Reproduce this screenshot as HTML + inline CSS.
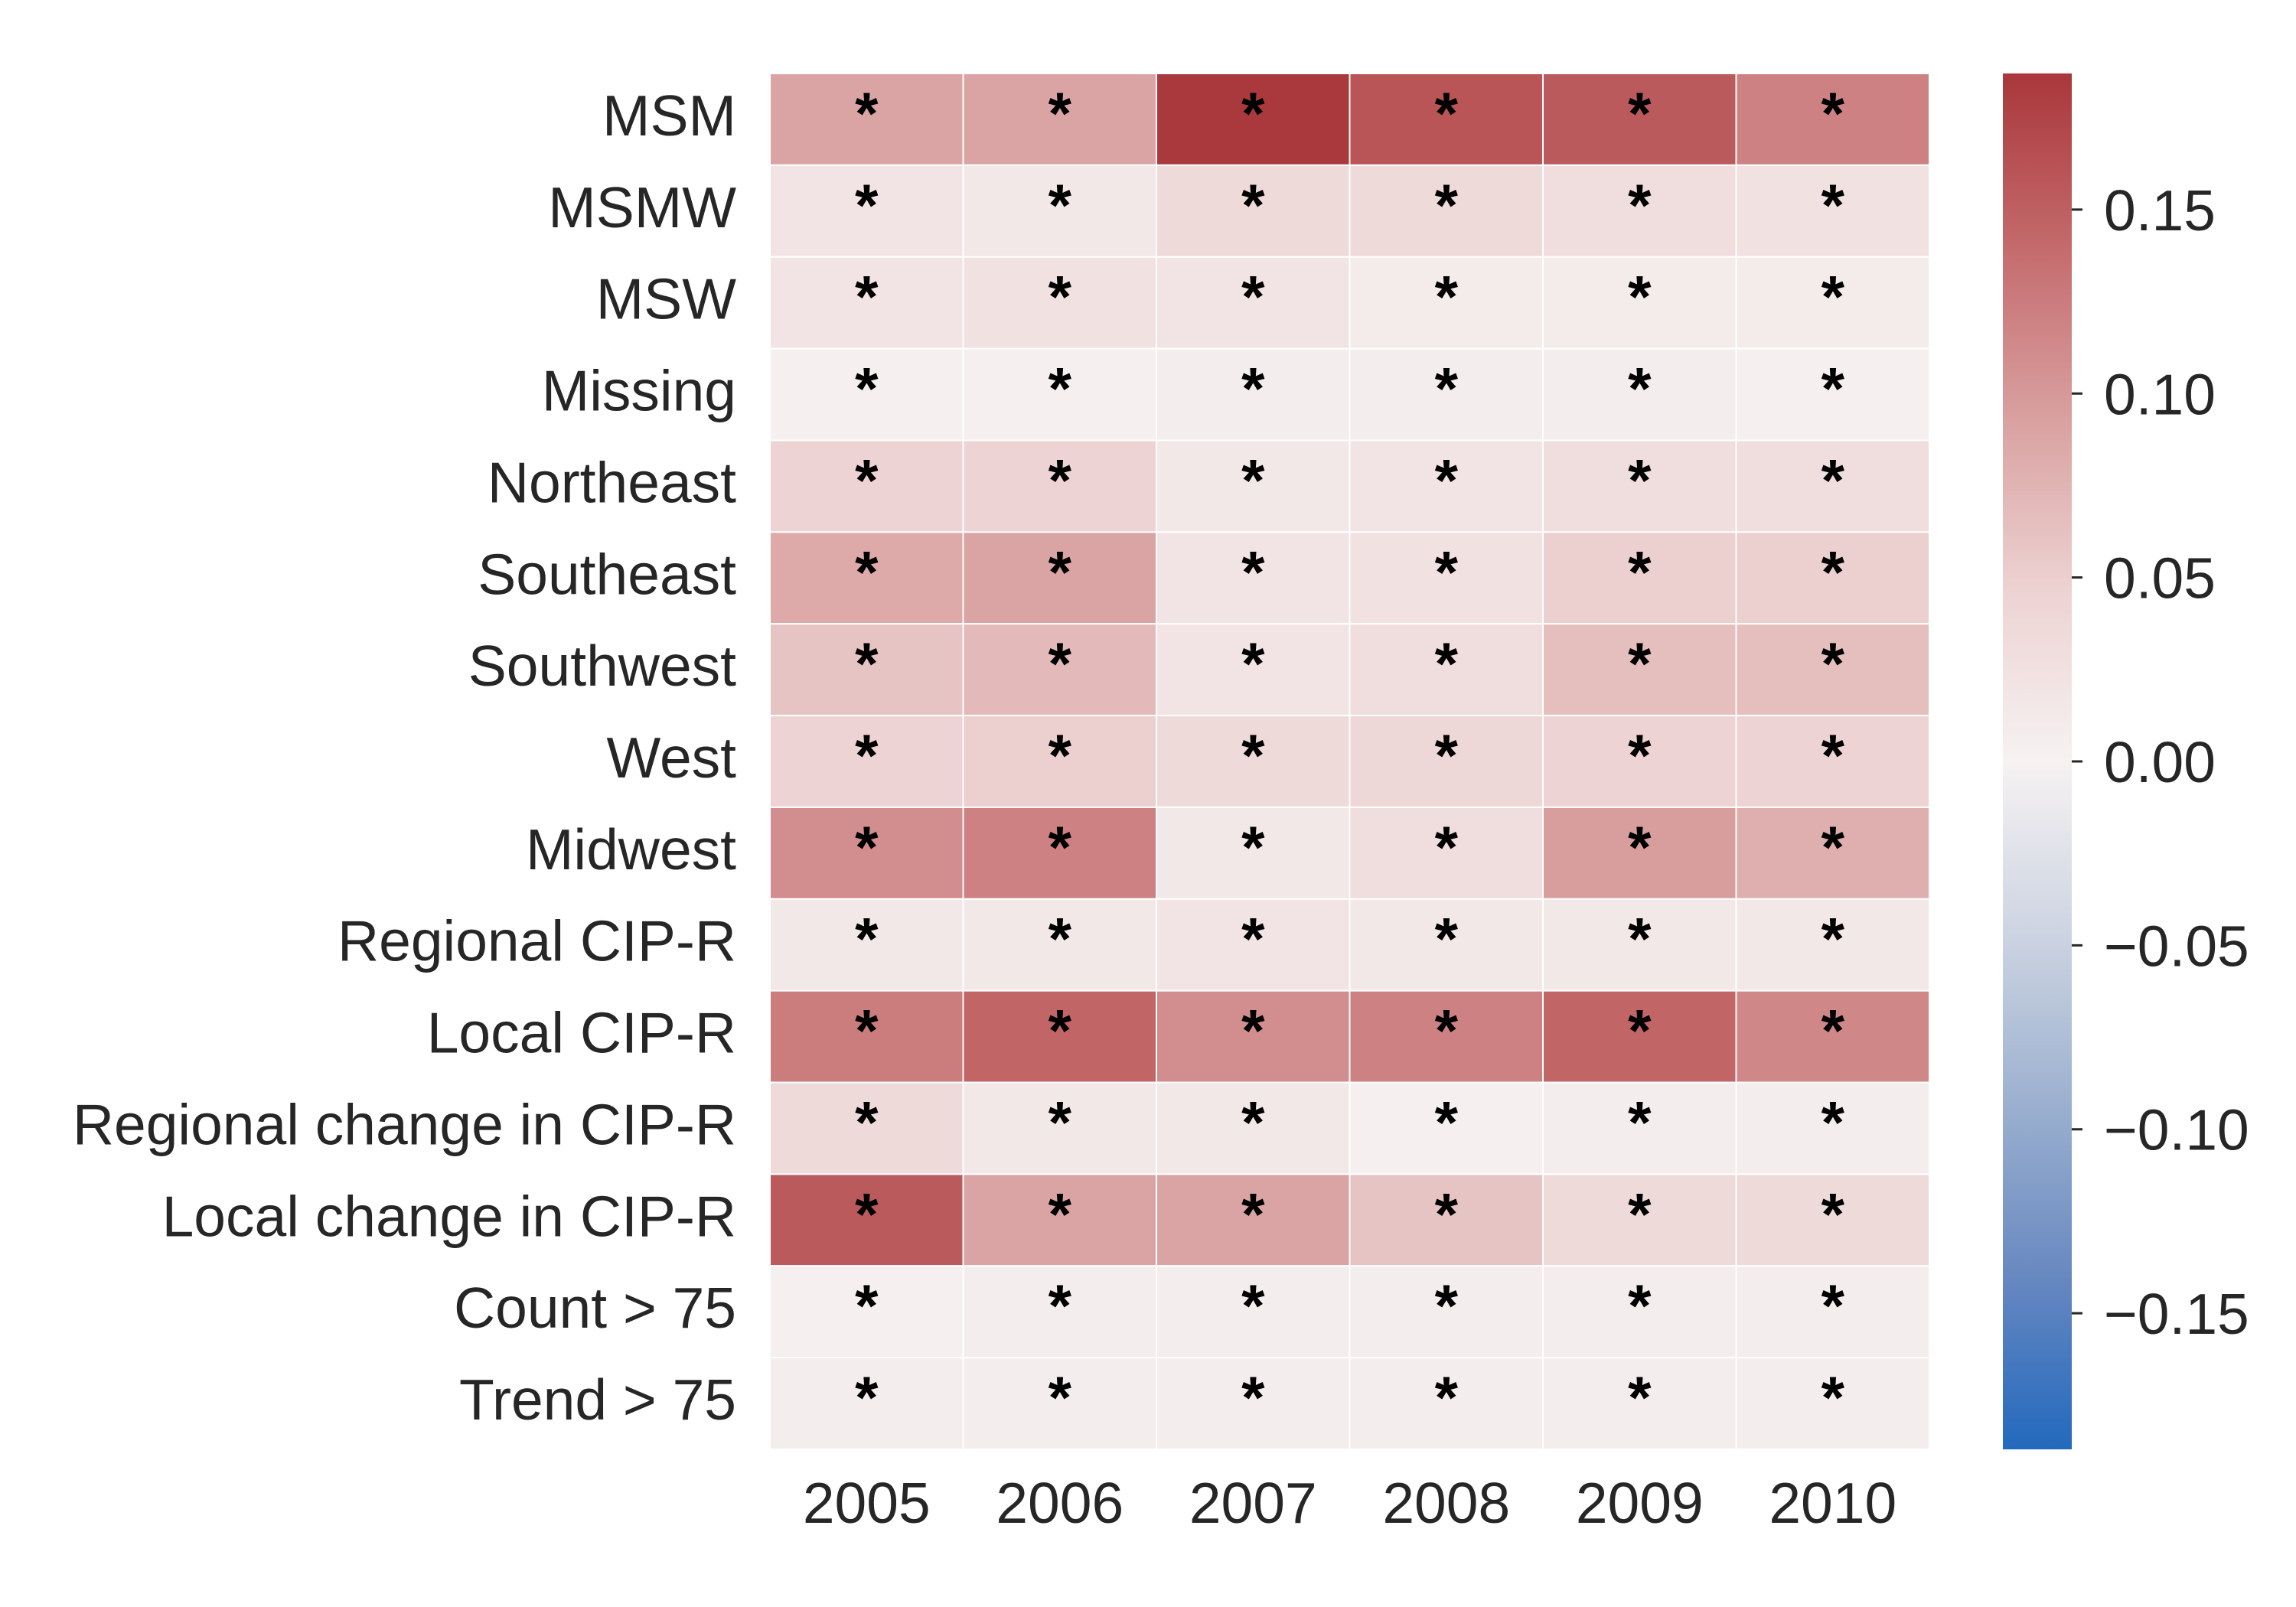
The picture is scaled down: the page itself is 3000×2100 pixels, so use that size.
<!DOCTYPE html>
<html><head><meta charset="utf-8"><style>
html,body{margin:0;padding:0;background:#fff;}
svg{display:block;font-family:"Liberation Sans",Arial,sans-serif;}
</style></head><body>
<svg id="chart" width="3000" height="2100" viewBox="0 0 3000 2100">
<defs>
<linearGradient id="cbgrad" x1="0" y1="1" x2="0" y2="0">
<stop offset="0" stop-color="#2369bd"/>
<stop offset="0.125" stop-color="#6788c0"/>
<stop offset="0.25" stop-color="#9bb0cf"/>
<stop offset="0.375" stop-color="#cdd4e2"/>
<stop offset="0.5" stop-color="#f6f2f2"/>
<stop offset="0.625" stop-color="#edd2d2"/>
<stop offset="0.75" stop-color="#d9a0a0"/>
<stop offset="0.875" stop-color="#c46a6c"/>
<stop offset="1" stop-color="#a9373b"/>
</linearGradient>
</defs>
<g id="cells"></g>
<g id="ylabels"></g>
<g id="xlabels"></g>
<g id="cbar"></g>
</svg>
<script>
const years = ["2005","2006","2007","2008","2009","2010"];
const rows = ["MSM","MSMW","MSW","Missing","Northeast","Southeast","Southwest","West","Midwest","Regional CIP-R","Local CIP-R","Regional change in CIP-R","Local change in CIP-R","Count > 75","Trend > 75"];
const vals = [
[0.09,0.09,0.185,0.16,0.155,0.12],
[0.02,0.015,0.035,0.035,0.03,0.025],
[0.02,0.025,0.02,0.01,0.01,0.01],
[0.005,0.005,0.008,0.008,0.008,0.005],
[0.045,0.045,0.015,0.02,0.03,0.03],
[0.085,0.09,0.02,0.025,0.05,0.05],
[0.06,0.07,0.02,0.03,0.065,0.065],
[0.045,0.05,0.035,0.04,0.045,0.045],
[0.11,0.12,0.015,0.03,0.095,0.08],
[0.015,0.015,0.02,0.015,0.015,0.015],
[0.125,0.145,0.11,0.12,0.145,0.115],
[0.035,0.015,0.015,0.005,0.008,0.008],
[0.155,0.09,0.09,0.06,0.035,0.035],
[0.005,0.008,0.008,0.008,0.008,0.008],
[0.008,0.008,0.008,0.008,0.008,0.008]];
const annot = "*";
const cbTicks = [0.15,0.10,0.05,0.00,-0.05,-0.10,-0.15];
const vmin = -0.187, vmax = 0.187;

const NS="http://www.w3.org/2000/svg";
const X0=1006, X1=2521, Y0=96, Y1=1894;
const cw=(X1-X0)/years.length, ch=(Y1-Y0)/rows.length;
const xs=i=>X0+i*cw, ys=j=>Y0+j*ch;
const stops=[[0,[0x23,0x69,0xbd]],[0.125,[0x67,0x88,0xc0]],[0.25,[0x9b,0xb0,0xcf]],[0.375,[0xcd,0xd4,0xe2]],[0.5,[0xf6,0xf2,0xf2]],[0.625,[0xed,0xd2,0xd2]],[0.75,[0xd9,0xa0,0xa0]],[0.875,[0xc4,0x6a,0x6c]],[1,[0xa9,0x37,0x3b]]];
function color(v){let t=(v-vmin)/(vmax-vmin);t=Math.max(0,Math.min(1,t));
for(let k=1;k<stops.length;k++){if(t<=stops[k][0]){const a=stops[k-1],b=stops[k];const f=(t-a[0])/(b[0]-a[0]);
const c=a[1].map((x,i)=>Math.round(x+(b[1][i]-x)*f));return `rgb(${c.join(',')})`;}}return 'rgb(169,55,59)';}
function mk(tag,attrs,parent){const e=document.createElementNS(NS,tag);for(const k in attrs)e.setAttribute(k,attrs[k]);parent.appendChild(e);return e;}
const gc=document.getElementById('cells');
vals.forEach((row,j)=>row.forEach((v,i)=>{
 const r=mk('rect',{x:xs(i),y:ys(j),width:cw,height:ch,fill:color(v),stroke:'#fff','stroke-width':2},gc);
 
 
 const t=mk('text',{x:xs(i)+cw/2,y:ys(j)+ch/2+19,'text-anchor':'middle','font-size':78,'font-weight':'bold',fill:'#000'},gc);
 t.textContent=annot;
 
 
}));
const gy=document.getElementById('ylabels');
rows.forEach((n,j)=>{const t=mk('text',{x:962,y:ys(j)+ch/2+21,'text-anchor':'end','font-size':75,fill:'#262626'},gy);t.textContent=n;
 
 });
const gx=document.getElementById('xlabels');
years.forEach((n,i)=>{const t=mk('text',{x:xs(i)+cw/2,y:1990,'text-anchor':'middle','font-size':75,fill:'#262626'},gx);t.textContent=n;
 
 });
const gb=document.getElementById('cbar');
const CX0=2617,CX1=2707;
const cy=v=>Y1-(v-vmin)/(vmax-vmin)*(Y1-Y0);
const cr=mk('rect',{x:CX0,y:Y0,width:CX1-CX0,height:Y1-Y0,fill:'url(#cbgrad)'},gb);


cbTicks.forEach(v=>{const y=cy(v);
 const l=mk('line',{x1:CX1,x2:CX1+14,y1:y,y2:y,stroke:'#262626','stroke-width':3},gb);
 
 
 const t=mk('text',{x:2749,y:y+27,'font-size':75,fill:'#262626'},gb);
 t.textContent=(v<0?'\u2212':'')+Math.abs(v).toFixed(2);
 
 });
</script>
</body></html>
